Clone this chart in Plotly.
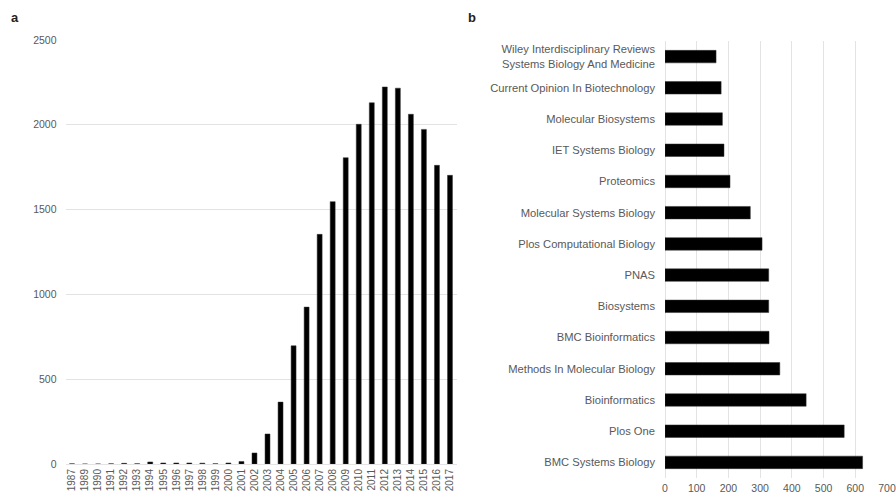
import plotly.graph_objects as go

years = ["1987"] + [str(y) for y in range(1989, 2018)]
pubs = [1, 0, 0, 1, 4, 2, 12, 6, 6, 6, 5, 2, 6, 15, 65, 177, 365,
        697, 925, 1354, 1547, 1806, 2003, 2130, 2223, 2216, 2062, 1973, 1761, 1702]

journals = ["BMC Systems Biology", "Plos One", "Bioinformatics",
            "Methods In Molecular Biology", "BMC Bioinformatics", "Biosystems",
            "PNAS", "Plos Computational Biology", "Molecular Systems Biology",
            "Proteomics", "IET Systems Biology", "Molecular Biosystems",
            "Current Opinion In Biotechnology",
            "Wiley Interdisciplinary Reviews<br>Systems Biology And Medicine"]
counts = [623, 565, 445, 362, 328, 327, 327, 306, 269, 205, 186, 181, 177, 161]

W, H = 896, 496
FONT = "Liberation Sans, Arial, sans-serif"
GRAY = "#595959"
GRID = "#e3e3e3"

fig = go.Figure()
fig.add_trace(go.Bar(x=years, y=pubs, xaxis="x", yaxis="y",
                     marker=dict(color="black", line=dict(color="#333", width=0.5)),
                     width=0.38, showlegend=False))
fig.add_trace(go.Bar(x=counts, y=journals, orientation="h", xaxis="x2", yaxis="y2",
                     marker=dict(color="black", line=dict(color="#333", width=0.5)),
                     width=0.4, showlegend=False))

fig.update_layout(
    width=W, height=H,
    margin=dict(l=0, r=0, t=0, b=0, autoexpand=False),
    paper_bgcolor="white", plot_bgcolor="white",
    font=dict(family=FONT, color=GRAY, size=10),
    bargap=0.6,
    xaxis=dict(domain=[65.5 / W, 456.5 / W], type="category", tickangle=-90,
               showgrid=False, showline=False, zeroline=False, ticks="",
               tickfont=dict(size=10, color=GRAY), ticklabelstandoff=2,
               automargin=False, anchor="y"),
    yaxis=dict(domain=[(H - 464) / H, (H - 40) / H], range=[0, 2500],
               tickvals=[0, 500, 1000, 1500, 2000, 2500],
               showgrid=True, gridcolor=GRID, gridwidth=1,
               zeroline=True, zerolinecolor=GRID, zerolinewidth=1,
               showline=False, ticks="", tickfont=dict(size=10.5, color=GRAY),
               ticklabelstandoff=8, automargin=False, anchor="x"),
    xaxis2=dict(domain=[665 / W, 887 / W], range=[0, 700],
                tickvals=[0, 100, 200, 300, 400, 500, 600, 700],
                showgrid=True, gridcolor=GRID, gridwidth=1,
                zeroline=True, zerolinecolor=GRID, zerolinewidth=1,
                showline=False, ticks="", tickfont=dict(size=10.5, color=GRAY),
                ticklabelstandoff=2, automargin=False, anchor="y2"),
    yaxis2=dict(domain=[(H - 478) / H, (H - 41) / H], type="category",
                showgrid=False, showline=False, zeroline=False, ticks="",
                tickfont=dict(size=11.2, color=GRAY), ticklabelstandoff=9,
                automargin=False, anchor="x2"),
    annotations=[
        dict(text="<b>a</b>", x=9 / W, y=(H - 18) / H, xref="paper", yref="paper",
             xanchor="left", yanchor="middle", showarrow=False,
             font=dict(size=13, color="#222", family=FONT)),
        dict(text="<b>b</b>", x=466 / W, y=(H - 18) / H, xref="paper", yref="paper",
             xanchor="left", yanchor="middle", showarrow=False,
             font=dict(size=13, color="#222", family=FONT)),
    ],
)

fig.write_html("out.html")
